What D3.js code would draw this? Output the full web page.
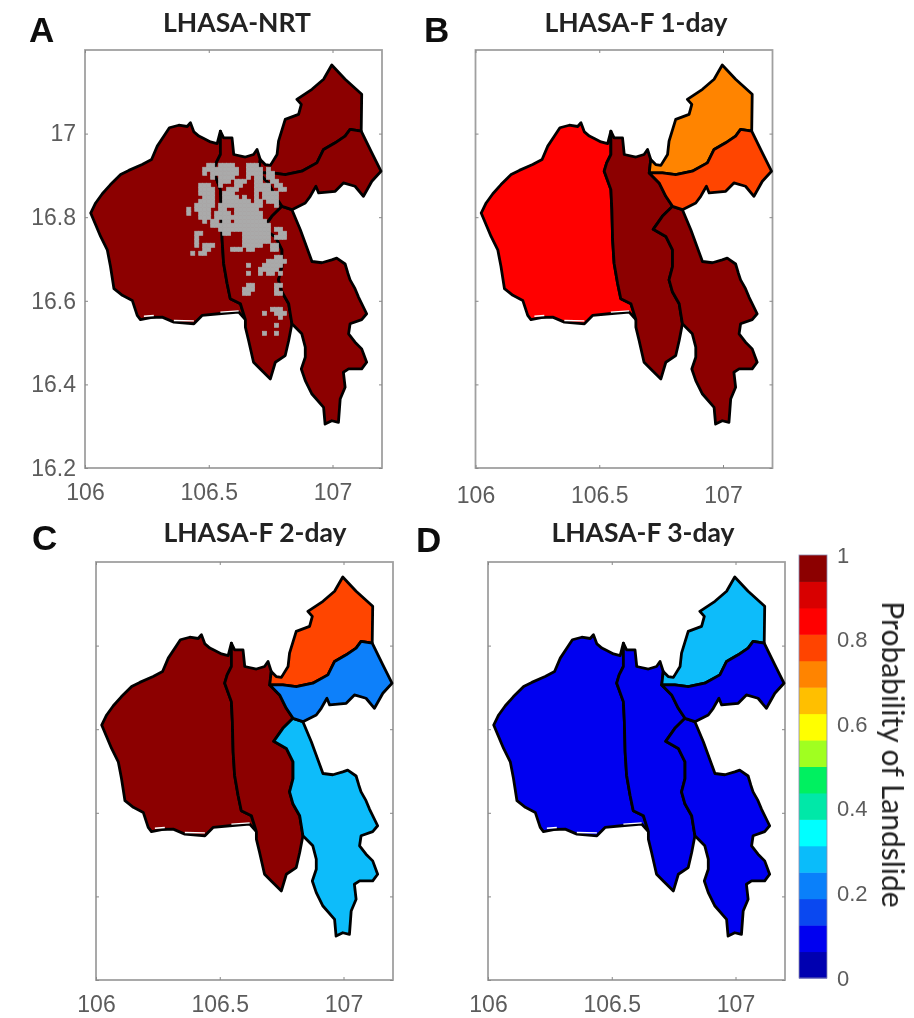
<!DOCTYPE html>
<html>
<head>
<meta charset="utf-8">
<script src="https://cdn.jsdelivr.net/npm/d3@7"></script>
<style>
  html, body { margin: 0; padding: 0; background: #fff; }
  svg { display: block; }
</style>
</head>
<body>
<svg id="chart" width="914" height="1018"></svg>
<script>
// panel labels
const panelLetters = ['A', 'B', 'C', 'D'];
const panelTitles = ['LHASA-NRT', 'LHASA-F 1-day', 'LHASA-F 2-day', 'LHASA-F 3-day'];

// ticks
const lonTicks = [106, 106.5, 107];
const latTicks = [16.2, 16.4, 16.6, 16.8, 17];
const colorTicks = [0, 0.2, 0.4, 0.6, 0.8, 1];

// 16 step colour bar (close to MATLAB jet)
const jetColors = ['#0000b0', '#0000f0', '#0a48f0', '#0a80fa', '#0abcfa', '#00ffff', '#00e8a8', '#00f060',
  '#a0ff20', '#ffff00', '#ffbf00', '#ff8400', '#ff4400', '#ff0000', '#d80000', '#8c0000'];

// probability per district, one value per panel A B C D
const probWest = [0.98, 0.85, 0.98, 0.1];
const probCentre = [0.98, 0.98, 0.98, 0.1];
const probSouthEast = [0.98, 0.98, 0.28, 0.1];
const probNorth = [0.98, 0.7, 0.77, 0.28];
const probNorthEast = [0.98, 0.77, 0.2, 0.1];

// district boundary pieces, [lon, lat]
const westNorth = [[106.547, 17.006], [106.534, 16.976], [106.507, 16.98], [106.48, 16.988], [106.46, 16.994],
  [106.44, 17.004], [106.426, 17.026], [106.413, 17.017], [106.379, 17.02], [106.341, 17.014], [106.319, 16.994],
  [106.292, 16.97], [106.269, 16.938], [106.231, 16.926], [106.177, 16.912], [106.144, 16.902], [106.103, 16.878],
  [106.07, 16.856], [106.043, 16.834], [106.023, 16.81], [106.043, 16.782], [106.063, 16.754], [106.09, 16.722],
  [106.103, 16.682], [106.117, 16.629], [106.151, 16.613], [106.191, 16.601], [106.211, 16.565], [106.224, 16.555],
  [106.265, 16.56], [106.312, 16.561], [106.359, 16.549], [106.44, 16.545], [106.473, 16.565], [106.54, 16.569],
  [106.621, 16.573], [106.648, 16.555]];
const westCentreBorder = [[106.648, 16.555], [106.628, 16.593], [106.587, 16.605], [106.574, 16.642], [106.56, 16.69],
  [106.554, 16.746], [106.551, 16.818], [106.547, 16.866], [106.52, 16.91], [106.53, 16.93], [106.547, 16.95],
  [106.547, 16.978], [106.547, 17.006]];
const centreNorth = [[106.547, 17.006], [106.56, 16.99], [106.594, 16.99], [106.601, 16.95], [106.648, 16.944],
  [106.681, 16.95], [106.695, 16.962], [106.708, 16.938], [106.702, 16.906]];
const centreNorthEastBorder = [[106.702, 16.906], [106.742, 16.882], [106.769, 16.85], [106.796, 16.826]];
const centreSouthEastBorder = [[106.796, 16.826], [106.755, 16.802], [106.718, 16.771], [106.769, 16.754],
  [106.796, 16.722], [106.796, 16.682], [106.782, 16.65], [106.796, 16.621], [106.823, 16.593], [106.836, 16.545]];
const centreSouth = [[106.836, 16.545], [106.823, 16.505], [106.809, 16.469], [106.769, 16.453], [106.749, 16.413],
  [106.708, 16.437], [106.681, 16.453], [106.661, 16.505], [106.648, 16.537], [106.648, 16.555]];
const northOuter = [[106.708, 16.938], [106.728, 16.926], [106.749, 16.924], [106.776, 16.95], [106.782, 16.982],
  [106.809, 17.034], [106.863, 17.046], [106.874, 17.07], [106.856, 17.082], [106.917, 17.106], [106.964, 17.13],
  [106.997, 17.164], [107.051, 17.13], [107.118, 17.094], [107.116, 17.006]];
const northBorder = [[107.116, 17.006], [107.071, 17.01], [107.051, 16.994], [107.011, 16.978], [106.964, 16.962],
  [106.937, 16.93], [106.876, 16.91], [106.809, 16.902], [106.755, 16.906], [106.702, 16.906]];
const northEastOuter = [[107.116, 17.006], [107.159, 16.954], [107.196, 16.91], [107.159, 16.886], [107.125, 16.85],
  [107.091, 16.874], [107.044, 16.882], [107.011, 16.862], [106.944, 16.858], [106.933, 16.874], [106.91, 16.85],
  [106.89, 16.834], [106.836, 16.818], [106.796, 16.826]];
const southEastOuter = [[106.836, 16.818], [106.87, 16.77], [106.917, 16.694], [106.957, 16.691], [106.997, 16.698],
  [107.017, 16.702], [107.051, 16.688], [107.062, 16.666], [107.071, 16.65], [107.091, 16.629], [107.105, 16.609],
  [107.138, 16.569], [107.118, 16.555], [107.071, 16.545], [107.065, 16.521], [107.091, 16.501], [107.118, 16.485],
  [107.138, 16.453], [107.118, 16.437], [107.065, 16.437], [107.044, 16.429], [107.051, 16.393], [107.031, 16.365],
  [107.024, 16.309], [106.997, 16.313], [106.97, 16.305], [106.964, 16.345], [106.917, 16.377], [106.89, 16.409],
  [106.874, 16.437], [106.89, 16.465], [106.89, 16.489], [106.876, 16.521], [106.836, 16.545]];

// thin white slivers on the south edge of the west district
const southSlivers = [
  [[106.238, 16.563], [106.278, 16.565]],
  [[106.359, 16.553], [106.44, 16.552]],
  [[106.547, 16.573], [106.621, 16.576]]
];

// landslide cells of panel A: lit columns per row, row 0 is the northern one
const greyLon0 = 106.379;
const greyLat0 = 16.929;
const greyLonStep = 0.0161;
const greyLatStep = 0.00957;
const greyRows = [
  [7, 8, 10, 11, 12, 13, 17, 18, 19],
  [6, 7, 8, 9, 10, 11, 12, 13, 14, 17, 18, 19, 20, 22],
  [6, 8, 9, 10, 11, 12, 13, 14, 17, 18, 19, 20, 22, 23],
  [8, 10, 11, 12, 13, 17, 19, 20, 22, 23],
  [10, 11, 12, 14, 15, 16, 19, 20, 23, 24],
  [5, 6, 7, 10, 14, 15, 19, 20, 21, 22, 24, 25],
  [5, 6, 7, 8, 12, 13, 14, 19, 20, 21, 22, 25, 26],
  [5, 6, 7, 8, 11, 12, 13, 19, 21, 22, 23, 24],
  [6, 7, 8, 11, 12, 13, 14, 16, 19, 21, 22, 23, 24],
  [5, 6, 7, 8, 11, 12, 13, 14, 15, 16, 17, 19, 20, 22, 23, 24],
  [4, 5, 6, 7, 8, 10, 11, 12, 13, 14, 15, 16, 17, 18, 19, 20, 24],
  [2, 4, 5, 6, 7, 10, 11, 14, 15, 16, 17, 18, 19],
  [2, 5, 6, 7, 9, 10, 11, 12, 14, 15, 16, 17, 18, 19, 20],
  [5, 6, 7, 9, 10, 11, 12, 13, 14, 15, 16, 17, 18, 19, 20],
  [6, 8, 9, 11, 12, 14, 15, 16, 17, 18, 19, 20, 21],
  [8, 9, 10, 11, 12, 13, 14, 15, 16, 17, 18, 19, 20, 21, 22],
  [10, 11, 12, 13, 14, 15, 16, 17, 18, 19, 20, 21, 22, 24, 25],
  [4, 5, 11, 12, 16, 17, 18, 19, 20, 21, 22, 25, 26],
  [4, 16, 17, 18, 19, 20, 21, 22, 24, 25, 26],
  [4, 16, 17, 18, 19, 20, 21, 22],
  [4, 6, 7, 8, 16, 17, 18, 19, 20, 23, 24],
  [6, 7, 13, 14, 15, 17, 18, 23, 24],
  [3, 5, 6],
  [24, 25],
  [22, 23, 24, 25, 26],
  [17, 21, 22, 23, 24, 25],
  [20, 21, 22, 23, 24],
  [17, 20, 22, 23, 25],
  [],
  [],
  [17, 18, 24, 25],
  [16, 17, 18, 24],
  [16, 17, 24, 25],
  [],
  [],
  [],
  [23, 24, 25],
  [21, 24, 25, 26],
  [25],
  [],
  [24],
  [],
  [21, 24]
];

const svg = d3.select('#chart');

const defs = svg.append('defs');
defs.append('filter').attr('id', 'soft')
  .attr('x', '-5%').attr('y', '-5%').attr('width', '110%').attr('height', '110%')
  .append('feGaussianBlur').attr('stdDeviation', 0.5);
defs.append('filter').attr('id', 'softText')
  .append('feGaussianBlur').attr('stdDeviation', 0.45);

const tickFont = '"Liberation Sans", Arial, sans-serif';
const titleFont = 'Lato, "Open Sans", sans-serif';
const tickColor = '#5c5c5c';
const frameColor = '#a0a0a0';

// frame of each panel, px
const frameW = 297;
const frameH = 418;
const frames = [
  { left: 85, top: 50, titleX: 237, titleY: 32, letterX: 29, letterY: 42, labelY: 500, yAxis: true },
  { left: 475.5, top: 50, titleX: 636, titleY: 32, letterX: 424, letterY: 42, labelY: 503, yAxis: false },
  { left: 96, top: 562, titleX: 255, titleY: 542, letterX: 32, letterY: 550, labelY: 1012, yAxis: false },
  { left: 488, top: 562, titleX: 643, titleY: 542, letterX: 416, letterY: 552, labelY: 1012, yAxis: false }
];

function pieces() {
  return {
    west: [...westNorth, ...westCentreBorder.slice(1)],
    centre: [...centreNorth, ...centreNorthEastBorder.slice(1), ...centreSouthEastBorder.slice(1), ...centreSouth.slice(1),
      ...westCentreBorder.slice(1)],
    southEast: [...southEastOuter, ...centreSouthEastBorder.slice(0, -1).reverse()],
    north: [...northOuter, ...northBorder.slice(1)],
    northEast: [...northEastOuter, ...centreNorthEastBorder.slice(0, -1).reverse(), ...northBorder.slice(1, -1).reverse()]
  };
}

const colorOf = d3.scaleQuantize().domain([0, 1]).range(jetColors);

function drawPanel(i) {
  const f = frames[i];
  const x = d3.scaleLinear().domain([106, 107.2]).range([f.left, f.left + frameW]);
  const y = d3.scaleLinear().domain([16.2, 17.2]).range([f.top + frameH, f.top]);
  const g = svg.append('g');

  // frame
  g.append('rect')
    .attr('x', f.left).attr('y', f.top)
    .attr('width', frameW).attr('height', frameH)
    .attr('fill', '#fff').attr('stroke', frameColor).attr('stroke-width', 1.8);

  const axisB = d3.axisBottom(x).tickValues(lonTicks).tickSize(-3).tickPadding(13).tickFormat(d3.format('~g'));
  const axisT = d3.axisTop(x).tickValues(lonTicks).tickSize(-3).tickFormat('');
  const axisL = d3.axisLeft(y).tickValues(latTicks).tickSize(-3).tickPadding(9).tickFormat(d3.format('~g'));
  const axisR = d3.axisRight(y).tickValues(latTicks).tickSize(-3).tickFormat('');

  const bottom = g.append('g').attr('transform', `translate(0,${f.top + frameH})`).call(axisB);
  g.append('g').attr('transform', `translate(0,${f.top})`).call(axisT);
  const left = g.append('g').attr('transform', `translate(${f.left},0)`).call(axisL);
  g.append('g').attr('transform', `translate(${f.left + frameW},0)`).call(axisR);
  if (!f.yAxis) left.selectAll('text').remove();
  g.selectAll('.domain').remove();
  g.selectAll('.tick line').attr('stroke', '#888');
  g.selectAll('.tick text')
    .attr('font-family', tickFont).attr('font-size', 23).attr('fill', tickColor).attr('filter', 'url(#softText)');
  bottom.selectAll('text').attr('y', f.labelY - f.top - frameH).attr('dy', '0');

  // districts
  const line = d3.line().x(d => x(d[0])).y(d => y(d[1]));
  const d = pieces();
  const districts = [
    [d.west, probWest[i]],
    [d.centre, probCentre[i]],
    [d.southEast, probSouthEast[i]],
    [d.north, probNorth[i]],
    [d.northEast, probNorthEast[i]]
  ];
  const map = g.append('g').attr('filter', 'url(#soft)');
  map.selectAll('path.district').data(districts).join('path')
    .attr('class', 'district')
    .attr('d', e => line(e[0]) + 'Z')
    .attr('fill', e => colorOf(e[1]))
    .attr('stroke', '#000').attr('stroke-width', 2.8).attr('stroke-linejoin', 'round');

  map.selectAll('path.sliver').data(southSlivers).join('path')
    .attr('class', 'sliver')
    .attr('d', line)
    .attr('fill', 'none').attr('stroke', '#fff').attr('stroke-width', 1.4);

  // landslide cells only in the first panel
  if (i === 0) {
    const cells = [];
    greyRows.forEach((cols, r) => cols.forEach(c => cells.push([greyLon0 + c * greyLonStep, greyLat0 - r * greyLatStep])));
    map.selectAll('rect.cell').data(cells).join('rect')
      .attr('class', 'cell')
      .attr('x', e => x(e[0])).attr('y', e => y(e[1]))
      .attr('width', x(greyLon0 + greyLonStep) - x(greyLon0))
      .attr('height', y(greyLat0 - greyLatStep) - y(greyLat0))
      .attr('fill', '#aaaaaa').attr('stroke', '#aaaaaa').attr('stroke-width', 0.8);
  }

  // title + letter
  svg.append('text').attr('x', f.titleX).attr('y', f.titleY).attr('text-anchor', 'middle')
    .attr('font-family', titleFont).attr('font-weight', 700).attr('font-size', 26.5).attr('fill', '#222')
    .attr('filter', 'url(#softText)')
    .text(panelTitles[i]);
  svg.append('text').attr('x', f.letterX).attr('y', f.letterY)
    .attr('font-family', tickFont).attr('font-weight', 700).attr('font-size', 35).attr('fill', '#111')
    .attr('filter', 'url(#softText)')
    .text(panelLetters[i]);
}

panelTitles.forEach((t, i) => drawPanel(i));

// colour bar
const barLeft = 799;
const barWidth = 28;
const barTop = 555;
const barBottom = 978;
const barY = d3.scaleLinear().domain([0, 1]).range([barBottom, barTop]);
const barStep = 1 / jetColors.length;
svg.append('g').selectAll('rect').data(jetColors).join('rect')
  .attr('x', barLeft).attr('width', barWidth)
  .attr('y', (c, i) => barY((i + 1) * barStep))
  .attr('height', (c, i) => barY(i * barStep) - barY((i + 1) * barStep) + 0.5)
  .attr('fill', c => c);
svg.append('rect').attr('x', barLeft).attr('y', barTop).attr('width', barWidth).attr('height', barBottom - barTop)
  .attr('fill', 'none').attr('stroke', '#8a8ab0').attr('stroke-width', 0.8);

const barAxis = svg.append('g').attr('transform', `translate(${barLeft + barWidth},0)`)
  .call(d3.axisRight(barY).tickValues(colorTicks).tickSize(0).tickPadding(10).tickFormat(d3.format('~g')));
barAxis.select('.domain').remove();
barAxis.selectAll('text').attr('font-family', tickFont).attr('font-size', 22).attr('fill', tickColor)
  .attr('filter', 'url(#softText)');

svg.append('text')
  .attr('transform', 'translate(882,754.5) rotate(90)')
  .attr('text-anchor', 'middle')
  .attr('font-family', titleFont).attr('font-size', 30).attr('fill', '#222')
  .attr('filter', 'url(#softText)')
  .text('Probability of Landslide');
</script>
</body>
</html>
